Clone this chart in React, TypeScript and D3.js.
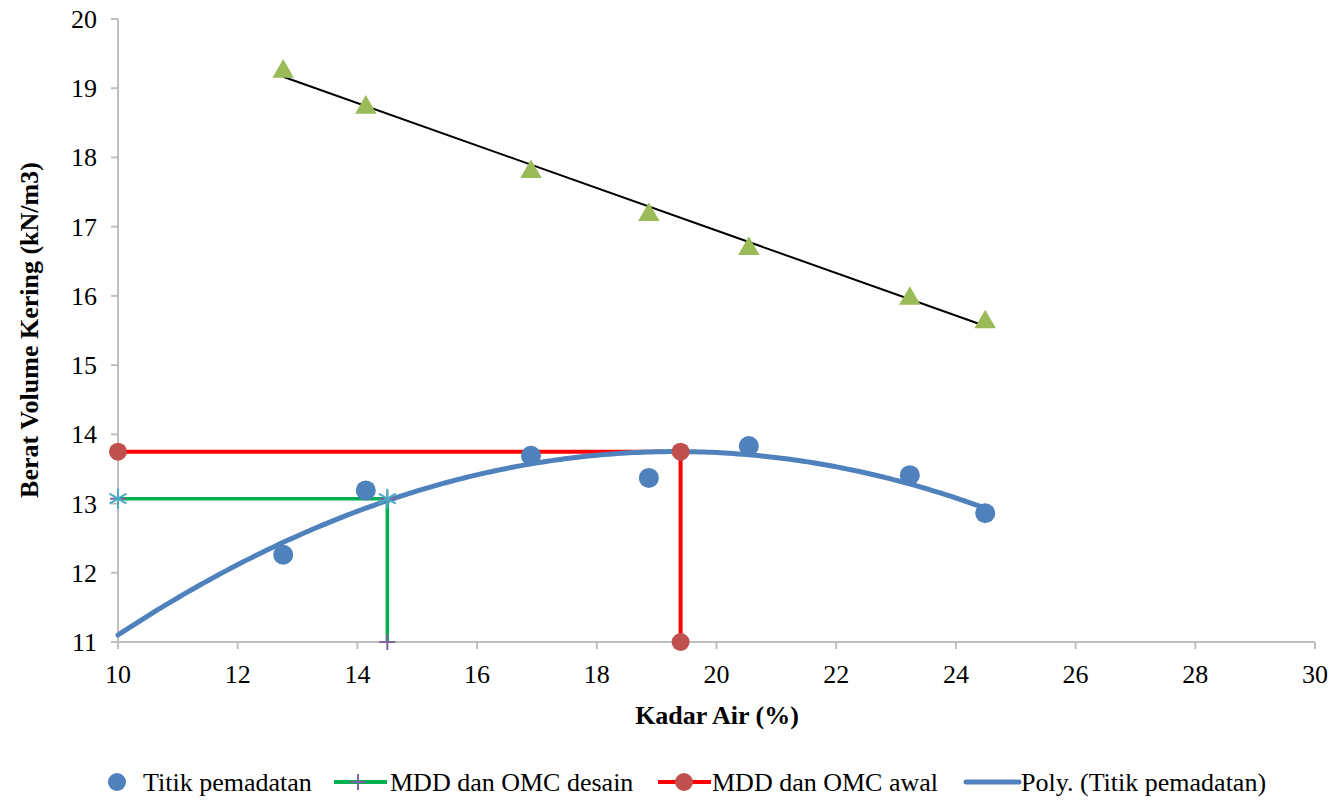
import React from "react";
import * as d3 from "d3";

const moisture = [12.76, 14.14, 16.9, 18.87, 20.54, 23.23, 24.49];
const dryDensity = [12.26, 13.19, 13.69, 13.37, 13.83, 13.41, 12.86];
const zavDensity = [19.27, 18.75, 17.82, 17.2, 16.71, 15.99, 15.65];
const desainX = [10, 14.5, 14.5];
const desainY = [13.07, 13.07, 11];
const awalX = [10, 19.4, 19.4];
const awalY = [13.75, 13.75, 11];
const xTicks = [10, 12, 14, 16, 18, 20, 22, 24, 26, 28, 30];
const yTicks = [11, 12, 13, 14, 15, 16, 17, 18, 19, 20];
const legendLabels = ["Titik pemadatan", "MDD dan OMC desain", "MDD dan OMC awal", "Poly. (Titik pemadatan)"];

function linFit(xs: number[], ys: number[]) {
  const n = xs.length;
  const mx = d3.mean(xs)!;
  const my = d3.mean(ys)!;
  let sxy = 0, sxx = 0;
  for (let i = 0; i < n; i++) { sxy += (xs[i] - mx) * (ys[i] - my); sxx += (xs[i] - mx) ** 2; }
  const b = sxy / sxx;
  return (x: number) => my + b * (x - mx);
}

function quadFit(xs: number[], ys: number[]) {
  const n = xs.length;
  const s = [0, 0, 0, 0, 0];
  const t = [0, 0, 0];
  for (let i = 0; i < n; i++) {
    for (let k = 0; k < 5; k++) s[k] += xs[i] ** k;
    for (let k = 0; k < 3; k++) t[k] += ys[i] * xs[i] ** k;
  }
  const M = [
    [s[0], s[1], s[2], t[0]],
    [s[1], s[2], s[3], t[1]],
    [s[2], s[3], s[4], t[2]],
  ];
  for (let i = 0; i < 3; i++) {
    let p = i;
    for (let r = i + 1; r < 3; r++) if (Math.abs(M[r][i]) > Math.abs(M[p][i])) p = r;
    [M[i], M[p]] = [M[p], M[i]];
    for (let r = 0; r < 3; r++) {
      if (r === i) continue;
      const f = M[r][i] / M[i][i];
      for (let c = i; c < 4; c++) M[r][c] -= f * M[i][c];
    }
  }
  const a = M[0][3] / M[0][0], b = M[1][3] / M[1][1], c = M[2][3] / M[2][2];
  return (x: number) => a + b * x + c * x * x;
}

export default function App() {
  const W = 1337, H = 804;
  const x = d3.scaleLinear().domain([10, 30]).range([118, 1315]);
  const y = d3.scaleLinear().domain([11, 20]).range([642, 19]);
  const font = "Liberation Serif, Times New Roman, serif";

  const lin = linFit(moisture, zavDensity);
  const quad = quadFit(moisture, dryDensity);
  const xMinM = d3.min(moisture)!, xMaxM = d3.max(moisture)!;
  const polyPts = d3.range(0, 201).map((i) => 10 + ((xMaxM - 10) * i) / 200);
  const line = d3.line<[number, number]>().x((d) => x(d[0])).y((d) => y(d[1]));
  const polyPath = line(polyPts.map((v) => [v, quad(v)] as [number, number]))!;
  const linPath = line([[xMinM, lin(xMinM)], [xMaxM, lin(xMaxM)]])!;
  const desainPath = line(desainX.map((v, i) => [v, desainY[i]] as [number, number]))!;
  const awalPath = line(awalX.map((v, i) => [v, awalY[i]] as [number, number]))!;
  const tri = d3.symbol().type(d3.symbolTriangle).size(200)()!;

  const star = (cx: number, cy: number, key: string) => {
    const r = 10;
    return (
      <g key={key} stroke="#4BACC6" strokeWidth={2}>
        <line x1={cx} y1={cy - r} x2={cx} y2={cy + r} />
        <line x1={cx - r * 0.85} y1={cy - r * 0.5} x2={cx + r * 0.85} y2={cy + r * 0.5} />
        <line x1={cx - r * 0.85} y1={cy + r * 0.5} x2={cx + r * 0.85} y2={cy - r * 0.5} />
      </g>
    );
  };
  const plus = (cx: number, cy: number, key: string) => (
    <g key={key} stroke="#8064A2" strokeWidth={2}>
      <line x1={cx - 8} y1={cy} x2={cx + 8} y2={cy} />
      <line x1={cx} y1={cy - 8} x2={cx} y2={cy + 8} />
    </g>
  );

  const legY = 782;
  return (
    <svg width={W} height={H} style={{ position: "absolute", left: 0, top: 0, background: "#fff" }}>
      <g fontFamily={font} fill="#000">
        <line x1={118} y1={19} x2={118} y2={642} stroke="#BFBFBF" strokeWidth={2} />
        <line x1={118} y1={642} x2={1315} y2={642} stroke="#BFBFBF" strokeWidth={2} />
        {yTicks.map((t) => (
          <g key={"y" + t}>
            <line x1={111} x2={118} y1={y(t)} y2={y(t)} stroke="#BFBFBF" strokeWidth={2} />
            <text x={97} y={y(t) + 9} textAnchor="end" fontSize={26}>{t}</text>
          </g>
        ))}
        {xTicks.map((t) => (
          <g key={"x" + t}>
            <line x1={x(t)} x2={x(t)} y1={642} y2={649} stroke="#BFBFBF" strokeWidth={2} />
            <text x={x(t)} y={683} textAnchor="middle" fontSize={26}>{t}</text>
          </g>
        ))}
        <text x={717} y={724} textAnchor="middle" fontSize={26} fontWeight="bold">Kadar Air (%)</text>
        <text transform="translate(38,330) rotate(-90)" textAnchor="middle" fontSize={26} fontWeight="bold">
          Berat Volume Kering (kN/m3)
        </text>

        <path d={desainPath} fill="none" stroke="#00B050" strokeWidth={3.5} />
        <path d={awalPath} fill="none" stroke="#FF0000" strokeWidth={4} />
        <path d={polyPath} fill="none" stroke="#4F81BD" strokeWidth={5} strokeLinecap="round" />
        <path d={linPath} fill="none" stroke="#000" strokeWidth={2} />

        {desainX.map((v, i) => plus(x(v), y(desainY[i]), "p" + i))}
        {desainX.slice(0, 2).map((v, i) => star(x(v), y(desainY[i]), "s" + i))}
        {awalX.map((v, i) => (
          <circle key={"a" + i} cx={x(v)} cy={y(awalY[i])} r={9} fill="#C0504D" />
        ))}
        {moisture.map((v, i) => (
          <circle key={"c" + i} cx={x(v)} cy={y(dryDensity[i])} r={10} fill="#4F81BD" />
        ))}
        {moisture.map((v, i) => (
          <path key={"t" + i} d={tri} transform={`translate(${x(v)},${y(zavDensity[i]) + 2})`} fill="#9BBB59" />
        ))}

        <g fontSize={26}>
          <circle cx={117} cy={legY} r={9} fill="#4F81BD" />
          <text x={143} y={legY + 9}>{legendLabels[0]}</text>
          <line x1={334} x2={387} y1={legY} y2={legY} stroke="#00B050" strokeWidth={4} />
          {plus(358, legY, "lp")}
          <text x={390} y={legY + 9}>{legendLabels[1]}</text>
          <line x1={658} x2={711} y1={legY} y2={legY} stroke="#FF0000" strokeWidth={4} />
          <circle cx={684} cy={legY} r={9} fill="#C0504D" />
          <text x={712} y={legY + 9}>{legendLabels[2]}</text>
          <line x1={966} x2={1019} y1={legY} y2={legY} stroke="#4F81BD" strokeWidth={5} strokeLinecap="round" />
          <text x={1021} y={legY + 9}>{legendLabels[3]}</text>
        </g>
      </g>
    </svg>
  );
}
